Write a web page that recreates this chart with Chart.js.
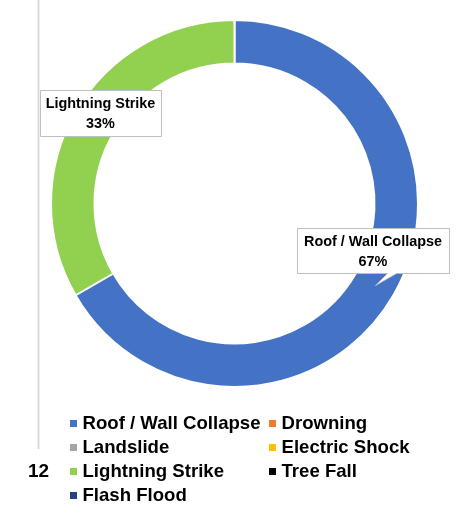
<!DOCTYPE html>
<html>
<head>
<meta charset="utf-8">
<script src="https://cdn.jsdelivr.net/npm/chart.js@4.4.0/dist/chart.umd.min.js"></script>
<style>
  html, body { margin: 0; padding: 0; background: #ffffff; }
  #wrap { width: 458px; height: 514px; position: relative; }
</style>
</head>
<body>
<div id="wrap"><canvas id="c" width="458" height="514"></canvas></div>
<script>
// ---- data ----
const categories = ["Roof / Wall Collapse", "Drowning", "Landslide", "Electric Shock", "Lightning Strike", "Tree Fall", "Flash Flood"];
const deaths = [2, 0, 0, 0, 1, 0, 0];
const colors = ["#4472C4", "#ED7D31", "#A5A5A5", "#FFC000", "#92D050", "#000000", "#264478"];
const sideLabel = "12";

const total = deaths.reduce((a, b) => a + b, 0);

const FONT = '"Liberation Sans", Arial, "DejaVu Sans", sans-serif';

// callout boxes (position/layout only)
const callouts = {
  0: { box: [297, 228, 152, 45], tail: [[387, 273], [375, 285], [396, 273]] },
  4: { box: [40, 90, 121, 46], tail: null }
};

const overlay = {
  id: 'overlay',
  beforeDraw(chart) {
    const ctx = chart.ctx;
    ctx.save();
    ctx.fillStyle = '#ffffff';
    ctx.fillRect(0, 0, chart.width, chart.height);
    // left gray axis remnant
    ctx.strokeStyle = '#d9d9d9';
    ctx.lineWidth = 2;
    ctx.beginPath();
    ctx.moveTo(38.5, 0);
    ctx.lineTo(38.5, 449);
    ctx.stroke();
    ctx.restore();
  },
  afterDraw(chart) {
    const ctx = chart.ctx;
    ctx.save();
    // side label
    ctx.fillStyle = '#000000';
    ctx.font = 'bold 19px ' + FONT;
    ctx.textAlign = 'left';
    ctx.textBaseline = 'middle';
    ctx.fillText(sideLabel, 28, 472);

    // legend: two columns, row-wise order
    const colX = [70, 269];
    const rowY = [423, 447, 471, 495];
    ctx.font = 'bold 18.6px ' + FONT;
    categories.forEach((name, i) => {
      const col = i % 2, row = Math.floor(i / 2);
      const x = colX[col], y = rowY[row];
      ctx.fillStyle = colors[i];
      ctx.fillRect(x, y - 3, 7, 7);
      ctx.fillStyle = '#000000';
      ctx.fillText(name, x + 12.5, y + 1);
    });

    // data callouts
    const meta = chart.getDatasetMeta(0);
    meta.data.forEach((arc, i) => {
      const c = callouts[i];
      if (!c || deaths[i] === 0) return;
      const [bx, by, bw, bh] = c.box;
      ctx.beginPath();
      ctx.moveTo(bx + 0.5, by + 0.5);
      ctx.lineTo(bx + bw + 0.5, by + 0.5);
      ctx.lineTo(bx + bw + 0.5, by + bh + 0.5);
      if (c.tail) {
        ctx.lineTo(c.tail[2][0] + 0.5, by + bh + 0.5);
        ctx.lineTo(c.tail[1][0] + 0.5, c.tail[1][1] + 0.5);
        ctx.lineTo(c.tail[0][0] + 0.5, by + bh + 0.5);
      }
      ctx.lineTo(bx + 0.5, by + bh + 0.5);
      ctx.closePath();
      ctx.fillStyle = '#ffffff';
      ctx.fill();
      ctx.strokeStyle = '#bfbfbf';
      ctx.lineWidth = 1;
      ctx.stroke();

      const cx = bx + bw / 2;
      const pct = Math.round(deaths[i] / total * 100) + '%';
      ctx.fillStyle = '#000000';
      ctx.textAlign = 'center';
      ctx.textBaseline = 'middle';
      ctx.font = 'bold 15.5px ' + FONT;
      ctx.save();
      ctx.translate(cx, 0);
      ctx.scale(0.93, 1);
      ctx.fillText(categories[i], 0, by + 14);
      ctx.fillText(pct, 0, by + 34);
      ctx.restore();
    });
    ctx.restore();
  }
};

new Chart(document.getElementById('c'), {
  type: 'doughnut',
  data: {
    labels: categories,
    datasets: [{
      data: deaths,
      backgroundColor: colors,
      borderColor: '#ffffff',
      borderWidth: 2
    }]
  },
  options: {
    responsive: false,
    animation: false,
    cutout: '76.3%',
    layout: { padding: { top: 19, bottom: 126, left: 50, right: 39 } },
    plugins: {
      legend: { display: false },
      tooltip: { enabled: false },
      title: { display: false }
    }
  },
  plugins: [overlay]
});
</script>
</body>
</html>
